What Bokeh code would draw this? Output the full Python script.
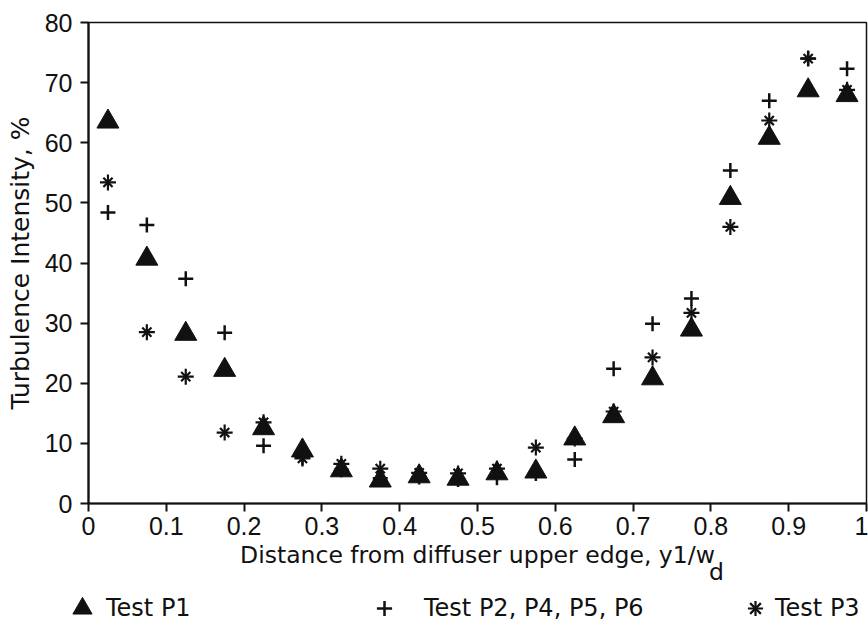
from bokeh.plotting import figure
from bokeh.models import Legend, LegendItem, FixedTicker
from bokeh.embed import file_html
from bokeh.resources import INLINE

# Measurement positions across the diffuser width (y1/wd)
positions = [0.025, 0.075, 0.125, 0.175, 0.225, 0.275, 0.325, 0.375, 0.425, 0.475,
             0.525, 0.575, 0.625, 0.675, 0.725, 0.775, 0.825, 0.875, 0.925, 0.975]

# Turbulence intensity, %
test_p1 = [63.5, 40.7, 28.2, 22.2, 12.5, 8.8, 5.5, 3.8, 4.5, 4.1,
           5.0, 5.3, 10.8, 14.5, 20.8, 28.9, 50.8, 60.8, 68.7, 67.9]
test_p2_p4_p5_p6 = [48.4, 46.3, 37.4, 28.4, 9.6, 7.6, 5.6, 4.2, 4.4, 4.0,
                    4.3, 5.0, 7.3, 22.4, 29.9, 34.1, 55.4, 67.0, 74.0, 72.3]
test_p3 = [53.4, 28.5, 21.1, 11.8, 13.5, 7.5, 6.6, 5.8, 5.1, 5.0,
           5.8, 9.3, 10.8, 15.3, 24.3, 31.7, 46.0, 63.7, 74.0, 68.8]

x_ticks = [0, 0.1, 0.2, 0.3, 0.4, 0.5, 0.6, 0.7, 0.8, 0.9, 1]
x_tick_labels = ["0", "0.1", "0.2", "0.3", "0.4", "0.5", "0.6", "0.7", "0.8", "0.9", "1"]
y_ticks = [0, 10, 20, 30, 40, 50, 60, 70, 80]
y_tick_labels = ["0", "10", "20", "30", "40", "50", "60", "70", "80"]

x_title = "Distance from diffuser upper edge, y1/w"
x_title_sub = "d"
y_title = "Turbulence Intensity, %"
series_names = ["Test P1", "Test P2, P4, P5, P6", "Test P3"]

TICK_FONT = "Liberation Sans"
TEXT_FONT = "DejaVu Sans"
INK = "#111111"

# marker styles shared by the plot and its key
STYLE_P1 = dict(marker="triangle", fill_color=INK, line_color=INK, line_width=1)
STYLE_P2 = dict(marker="cross", line_color=INK, line_width=2.5)
STYLE_P3A = dict(marker="x", line_color=INK, line_width=2.2)
STYLE_P3B = dict(marker="cross", line_color=INK, line_width=2.2)

# ---------------- main scatter panel ----------------
P_HEIGHT = 593
p = figure(width=868, height=P_HEIGHT, x_range=(0, 1), y_range=(0, 80),
           output_backend="svg", toolbar_location=None,
           min_border_left=88, min_border_right=2, min_border_top=22,
           min_border_bottom=P_HEIGHT - 503)

p.background_fill_color = "white"
p.border_fill_color = "white"
p.xgrid.visible = False
p.ygrid.visible = False
p.outline_line_color = INK
p.outline_line_width = 1.5

for ax in (p.xaxis, p.yaxis):
    ax.axis_line_width = 2.2
    ax.axis_line_color = INK
    ax.major_tick_line_width = 2
    ax.major_tick_line_color = INK
    ax.major_tick_in = 0
    ax.major_tick_out = 8
    ax.minor_tick_line_color = None
    ax.major_label_text_font = TICK_FONT
    ax.major_label_text_font_size = "25px"
    ax.major_label_text_color = INK
    ax.axis_label_text_font = TEXT_FONT
    ax.axis_label_text_font_style = "normal"
    ax.axis_label_text_color = INK

p.xaxis.ticker = FixedTicker(ticks=x_ticks)
p.xaxis.major_label_overrides = dict(zip(x_ticks, x_tick_labels))
p.yaxis.ticker = FixedTicker(ticks=y_ticks)
p.yaxis.major_label_overrides = dict(zip(y_ticks, y_tick_labels))
p.xaxis.major_label_standoff = 5
p.yaxis.major_label_standoff = 8

# x title with the subscript of w_d on a tight second line
# (non-breaking spaces push the "d" under the end of "w")
p.xaxis.axis_label = x_title + "\n" + "\u00a0" * 64 + x_title_sub
p.xaxis.axis_label_text_font_size = "23.5px"
p.xaxis.axis_label_text_line_height = 0.62
p.xaxis.axis_label_standoff = 3

p.yaxis.axis_label = y_title
p.yaxis.axis_label_text_font_size = "25px"
p.yaxis.axis_label_standoff = 7

p.scatter(positions, test_p1, size=22, **STYLE_P1)
p.scatter(positions, test_p2_p4_p5_p6, size=15, **STYLE_P2)
p.scatter(positions, test_p3, size=13, **STYLE_P3A)
p.scatter(positions, test_p3, size=16, **STYLE_P3B)

# ---------------- strip below: key ----------------
STRIP_H = 633 - P_HEIGHT
strip = figure(width=868, height=STRIP_H, x_range=(0, 868), y_range=(0, STRIP_H),
               output_backend="svg", toolbar_location=None,
               x_axis_location=None, y_axis_location=None, min_border=0)
strip.xgrid.visible = False
strip.ygrid.visible = False
strip.outline_line_color = None
strip.background_fill_color = "white"
strip.border_fill_color = "white"

# hidden copies of the series: they only lend their symbols to the key
k_p1 = strip.scatter(positions, test_p1, visible=False, **STYLE_P1)
k_p2 = strip.scatter(positions, test_p2_p4_p5_p6, visible=False, **STYLE_P2)
k_p3a = strip.scatter(positions, test_p3, visible=False, **STYLE_P3A)
k_p3b = strip.scatter(positions, test_p3, visible=False, **STYLE_P3B)


def key(items, loc, box, standoff):
    return Legend(items=items, location=loc, orientation="horizontal",
                  label_text_font=TEXT_FONT, label_text_font_size="24px",
                  label_text_color=INK, glyph_width=box, glyph_height=box,
                  label_standoff=standoff, padding=0, margin=0, spacing=0,
                  border_line_color=None, background_fill_alpha=0)


KEY_MID = 25  # vertical centre of the key row inside the strip
strip.add_layout(key([LegendItem(label=series_names[0], renderers=[k_p1])],
                     (58, KEY_MID - 24), 48, 0), "center")
strip.add_layout(key([LegendItem(label=series_names[1], renderers=[k_p2])],
                     (365, KEY_MID - 19), 38, 21), "center")
strip.add_layout(key([LegendItem(label=series_names[2], renderers=[k_p3a, k_p3b])],
                     (736, KEY_MID - 19), 38, 1), "center")

open("out.html", "w").write(file_html([p, strip], INLINE))
